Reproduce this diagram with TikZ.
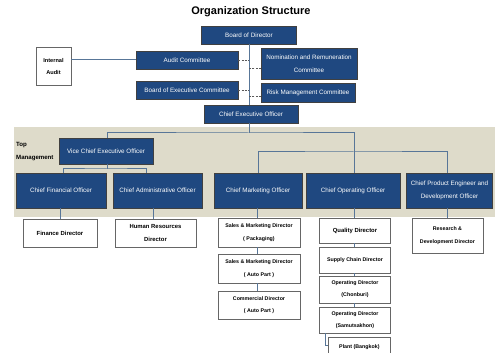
\documentclass[tikz,border=0pt]{standalone}
\usepackage{fontspec}
\setmainfont{Liberation Sans}
\definecolor{navy}{RGB}{31,72,128}
\definecolor{connc}{RGB}{88,118,152}
\definecolor{bandc}{RGB}{222,219,202}
\begin{document}
\begin{tikzpicture}[x=1pt,y=-1pt,
 bluebox/.style={draw=black!75, line width=0.6pt, fill=navy, text=white, font=\fontsize{6.3}{12.5}\selectfont, align=center, inner sep=0pt},
 whitebox/.style={draw=black!60, line width=0.8pt, fill=white, text=black, font=\bfseries\fontsize{5.9}{13}\selectfont, align=center, inner sep=0pt},
 conn/.style={draw=connc, line width=1pt},
 dashconn/.style={draw=black!65, line width=0.8pt, dash pattern=on 2pt off 1.2pt}]
\useasboundingbox (0,0) rectangle (499,353);
\fill[white] (0,0) rectangle (499,353);
\fill[bandc] (14,127) rectangle (495,217);

\node[font=\bfseries\fontsize{11}{13}\selectfont] (title) at (251,12) {Organization Structure};

% board level
\node[bluebox, minimum width=95pt, minimum height=18pt] (board) at (249,35) {Board of Director};
\node[bluebox, minimum width=102pt, minimum height=18pt] (audit) at (187,60) {Audit Committee};
\node[bluebox, minimum width=102pt, minimum height=18pt] (bexec) at (187,90) {Board of Executive Committee};
\node[bluebox, minimum width=96pt, minimum height=31pt] (nom) at (309,63.5) {Nomination and Remuneration\\Committee};
\node[bluebox, minimum width=94pt, minimum height=19pt] (risk) at (308,92.5) {Risk Management Committee};
\node[bluebox, minimum width=94pt, minimum height=18pt] (ceo) at (251,114) {Chief Executive Officer};
\node[whitebox, minimum width=35pt, minimum height=38pt, font=\bfseries\fontsize{5.6}{12}\selectfont] (internal) at (53.5,66) {Internal\\Audit};

% top management
\node[anchor=west, align=left, inner sep=0pt, font=\bfseries\fontsize{6.1}{13}\selectfont] (toplabel) at (16,151.5) {Top\\Management};
\node[bluebox, minimum width=94pt, minimum height=26pt] (vceo) at (106,151) {Vice Chief Executive Officer};
\node[bluebox, minimum width=90pt, minimum height=35pt] (cfo) at (61,190.5) {Chief Financial Officer};
\node[bluebox, minimum width=89pt, minimum height=35pt] (cao) at (157.5,190.5) {Chief Administrative Officer};
\node[bluebox, minimum width=88pt, minimum height=35pt] (cmo) at (258,190.5) {Chief Marketing Officer};
\node[bluebox, minimum width=94pt, minimum height=35pt] (coo) at (353,190.5) {Chief Operating Officer};
\node[bluebox, minimum width=86pt, minimum height=35pt] (cpe) at (449.5,190.5) {Chief Product Engineer and\\Development Officer};

% directors
\node[whitebox, minimum width=74pt, minimum height=28pt] (fin) at (60,233) {Finance Director};
\node[whitebox, minimum width=81pt, minimum height=28pt] (hr) at (155.5,233) {Human Resources\\Director};
\node[whitebox, minimum width=82pt, minimum height=29pt, font=\bfseries\fontsize{5.3}{12.5}\selectfont] (smp) at (259,232.5) {Sales \& Marketing Director\\( Packaging)};
\node[whitebox, minimum width=82pt, minimum height=29pt, font=\bfseries\fontsize{5.3}{12.5}\selectfont] (sma) at (259,268.5) {Sales \& Marketing Director\\( Auto Part )};
\node[whitebox, minimum width=82pt, minimum height=28pt, font=\bfseries\fontsize{5.3}{12.5}\selectfont] (com) at (259,305) {Commercial Director\\( Auto Part )};
\node[whitebox, minimum width=71pt, minimum height=25pt] (qual) at (355,230.5) {Quality Director};
\node[whitebox, minimum width=71pt, minimum height=26pt, font=\bfseries\fontsize{5.3}{12.5}\selectfont] (supp) at (355,260) {Supply Chain Director};
\node[whitebox, minimum width=71pt, minimum height=27pt, font=\bfseries\fontsize{5.3}{12}\selectfont] (chon) at (355,289.5) {Operating Director\\(Chonburi)};
\node[whitebox, minimum width=71pt, minimum height=26pt, font=\bfseries\fontsize{5.3}{12}\selectfont] (samut) at (355,320) {Operating Director\\(Samutsakhon)};
\node[whitebox, minimum width=62pt, minimum height=24pt, anchor=north west, font=\bfseries\fontsize{5.3}{12}\selectfont, text depth=6pt] (plant) at (328,337) {Plant (Bangkok)};
\node[whitebox, minimum width=71pt, minimum height=35pt, font=\bfseries\fontsize{5.3}{12.5}\selectfont] (rnd) at (447.5,235.5) {Research \&\\Development Director};

% connectors
\coordinate (j1) at (249,133);
\coordinate (j2) at (354,152);
\coordinate (j3) at (107,169);
\draw[conn] (internal.east |- audit) -- (audit.west);
\draw[conn] (board.south) -- (board.south |- ceo.north);
\draw[conn] (board.south |- ceo.south) -- (j1);
\draw[conn] (vceo.north -| j3) |- (j1) -| ([xshift=1pt]coo.north);
\draw[conn] ([xshift=0pt]cmo.north) |- (j2) -| ([xshift=-2.5pt]cpe.north);
\draw[conn] (vceo.south -| j3) -- (j3);
\draw[conn] ([xshift=2pt]cfo.north) |- (j3) -| ([xshift=-11.5pt]cao.north);
\draw[conn] ([xshift=-1pt]cfo.south) -- ([xshift=-1pt]cfo.south |- fin.north);
\draw[conn] ([xshift=-4.5pt]cao.south) -- ([xshift=-4.5pt]cao.south |- hr.north);
\draw[conn] ([xshift=-1pt]cmo.south) -- ([xshift=-2pt]smp.north);
\draw[conn] ([xshift=-2pt]smp.south) -- ([xshift=-2pt]sma.north);
\draw[conn] ([xshift=-2pt]sma.south) -- ([xshift=-2pt]com.north);
\draw[conn] ([xshift=1pt]coo.south) -- ([xshift=-1pt]qual.north);
\draw[conn] ([xshift=-1pt]qual.south) -- ([xshift=-1pt]supp.north);
\draw[conn] ([xshift=-1pt]supp.south) -- ([xshift=-1pt]chon.north);
\draw[conn] ([xshift=-1pt]chon.south) -- ([xshift=-1pt]samut.north);
\draw[conn] ([xshift=6pt]samut.south west) |- ([yshift=-8pt]plant.north west);
\draw[conn] ([xshift=-2.5pt]cpe.south) -- ([xshift=-2.5pt]cpe.south |- rnd.north);

% dashed links
\draw[dashconn] (audit.east) -- (audit.east -| board.south);
\draw[dashconn] (bexec.east) -- (bexec.east -| board.south);
\draw[dashconn] ([yshift=-4.5pt]nom.west) -- ([yshift=-4.5pt]nom.west -| board.south);
\draw[dashconn] ([yshift=-3.5pt]risk.west) -- ([yshift=-3.5pt]risk.west -| board.south);
\end{tikzpicture}
\end{document}
